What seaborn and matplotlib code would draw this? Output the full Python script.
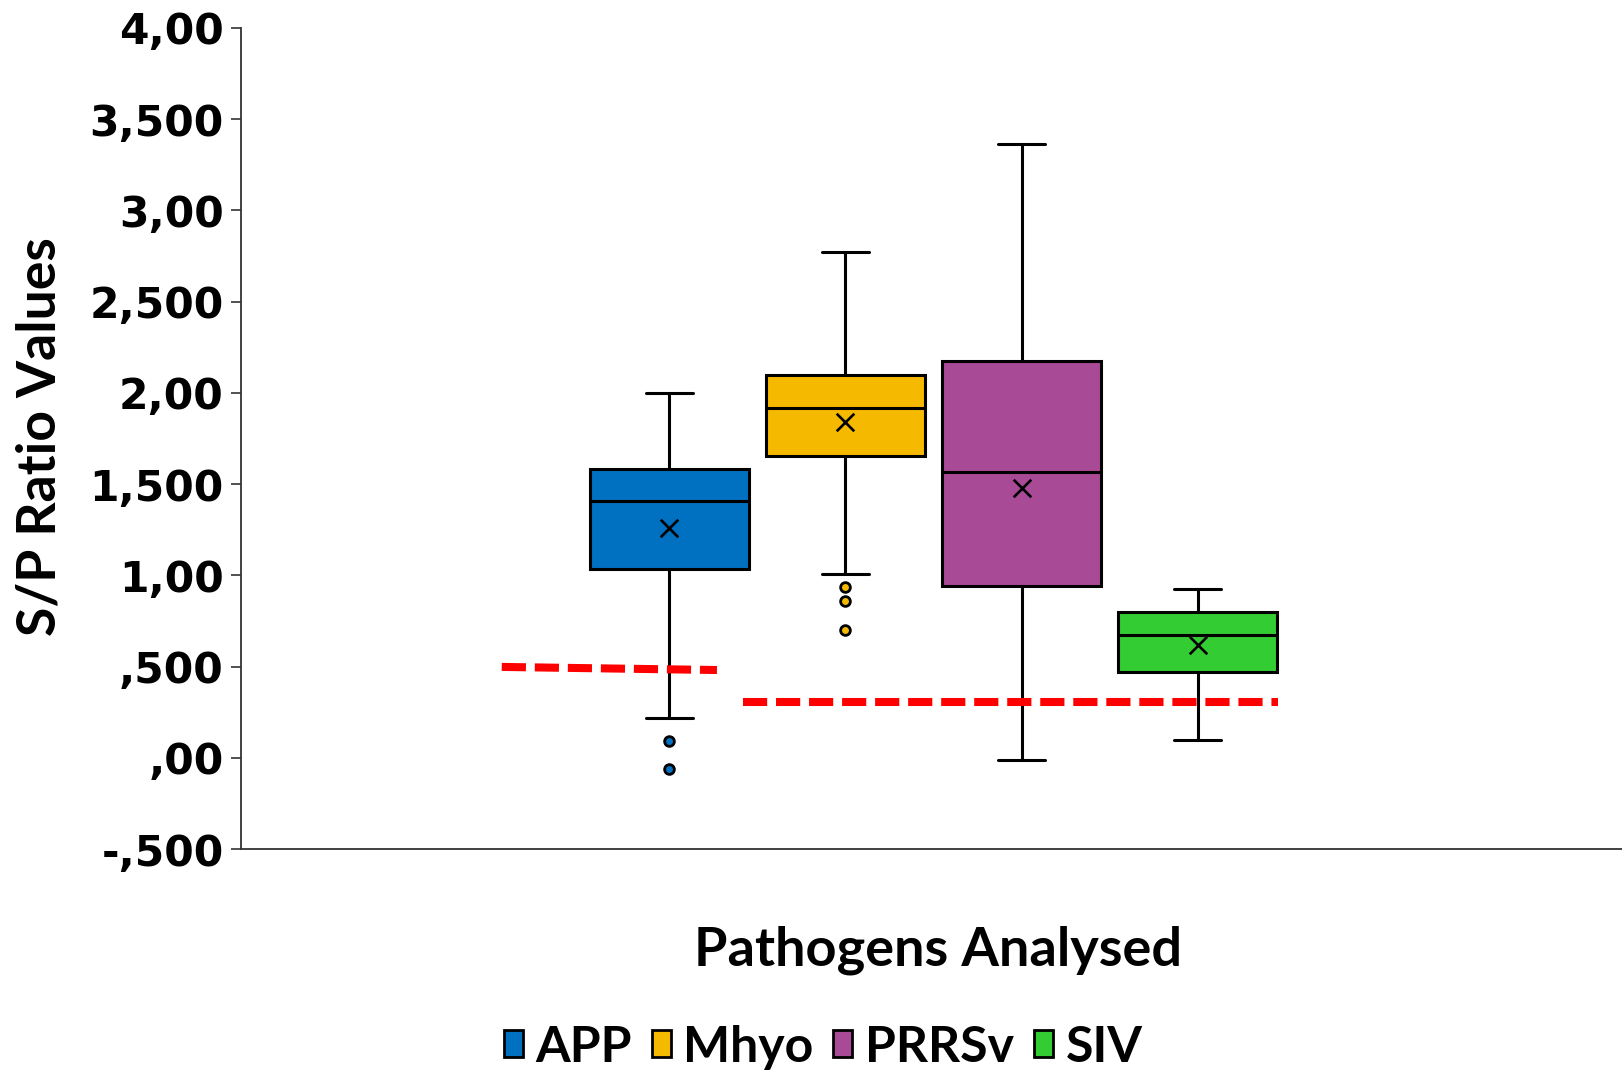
import numpy as np
import pandas as pd
import matplotlib
matplotlib.use("Agg")
import matplotlib.pyplot as plt
import seaborn as sns
from matplotlib.patches import Patch

# ---------------- data ----------------
pathogens = ["APP", "Mhyo", "PRRSv", "SIV"]
colors = ["#0070C0", "#F5BA00", "#A84A96", "#33CC33"]
whisker_low = [0.22, 1.01, -0.01, 0.095]
q1 = [1.035, 1.654, 0.94, 0.469]
median = [1.41, 1.915, 1.569, 0.673]
q3 = [1.585, 2.096, 2.175, 0.798]
whisker_high = [2.00, 2.77, 3.366, 0.923]
means = [1.257, 1.84, 1.478, 0.617]
outliers = [[0.09, -0.064], [0.934, 0.86, 0.70], [], []]
cutoff_app = [0.498, 0.481]
cutoff_other = [0.307, 0.307]
ytick_values = [-0.5, 0.0, 0.5, 1.0, 1.5, 2.0, 2.5, 3.0, 3.5, 4.0]
ytick_labels = ["-,500", ",00", ",500", "1,00", "1,500", "2,00",
                "2,500", "3,00", "3,500", "4,00"]

# ---------------- style ----------------
sns.set_style("white")
plt.rcParams["font.family"] = ["DejaVu Sans"]
plt.rcParams["text.color"] = "black"
plt.rcParams["ytick.color"] = "black"
plt.rcParams["xtick.color"] = "black"
plt.rcParams["axes.labelcolor"] = "black"

W, H = 1622, 1074
fig = plt.figure(figsize=(W / 100, H / 100), dpi=100)
ax_l, ax_r, ax_t, ax_b = 241, 1622, 28, 849
ax = fig.add_axes([ax_l / W, 1 - ax_b / H, (ax_r - ax_l) / W, (ax_b - ax_t) / H])

positions = np.arange(len(pathogens))
stats = []
for i, name in enumerate(pathogens):
    stats.append(dict(label=name, whislo=whisker_low[i], q1=q1[i], med=median[i],
                      q3=q3[i], whishi=whisker_high[i], mean=means[i],
                      fliers=np.array(outliers[i])))

lw = 2.2
bp = ax.bxp(stats, positions=positions, widths=0.905, patch_artist=True,
            showmeans=False, manage_ticks=False, capwidths=0.27,
            boxprops=dict(linewidth=lw, edgecolor="black"),
            whiskerprops=dict(linewidth=lw, color="black"),
            capprops=dict(linewidth=lw, color="black"),
            medianprops=dict(linewidth=lw, color="black"),
            flierprops=dict(marker="o", markersize=7, markeredgewidth=2,
                            markeredgecolor="black"))
for patch, c in zip(bp["boxes"], colors):
    patch.set_facecolor(c)
for fl, c in zip(bp["fliers"], colors):
    fl.set_markerfacecolor(c)

# mean markers via seaborn
mean_df = pd.DataFrame({"pos": positions, "mean": means})
sns.scatterplot(data=mean_df, x="pos", y="mean", marker="x", color="black",
                s=160, linewidth=1.9, ax=ax, legend=False, zorder=5)

# cut-off dashed lines
ax.plot([positions[0] - 0.952, positions[0] + 0.27], cutoff_app, color="#FF0000",
        lw=5.8, dashes=(3, 1.1), dash_capstyle="butt", zorder=4)
ax.plot([positions[0] + 0.417, positions[3] + 0.456], cutoff_other, color="#FF0000",
        lw=5.8, dashes=(3, 1.1), dash_capstyle="butt", zorder=4)

# axes
ax.set_xlim(-2.433, 5.41)
ax.set_ylim(-0.5, 4.0)
ax.set_yticks(ytick_values)
ax.set_yticklabels(ytick_labels, fontsize=30.5, fontweight="bold", color="black")
ax.set_xticks([])
ax.set_xlabel("")
ax.set_ylabel("")
ax.tick_params(axis="y", direction="out", length=7, width=1.2, pad=5.5, color="#333333", left=True)
for s in ["top", "right"]:
    ax.spines[s].set_visible(False)
for s in ["left", "bottom"]:
    ax.spines[s].set_color("#333333")
    ax.spines[s].set_linewidth(1.3)

fig.text(40 / W, 1 - 437 / H, "S/P Ratio Values", rotation=90, ha="center", va="center",
         fontsize=38.5, fontweight="bold", family="Lato", color="black")
fig.text(938 / W, 1 - 950 / H, "Pathogens Analysed", ha="center", va="center",
         fontsize=39, fontweight="bold", family="Lato", color="black")

handles = [Patch(facecolor=c, edgecolor="black", linewidth=2) for c in colors]
fig.legend(handles, pathogens, ncol=4, loc="center", bbox_to_anchor=(823 / W, 1 - 1047 / H),
           frameon=False, prop=dict(family="Lato", weight="bold", size=36),
           labelcolor="black",
           handlelength=0.38, handleheight=0.45, handletextpad=0.25, columnspacing=0.4)

fig.savefig("out.png", dpi=100)
